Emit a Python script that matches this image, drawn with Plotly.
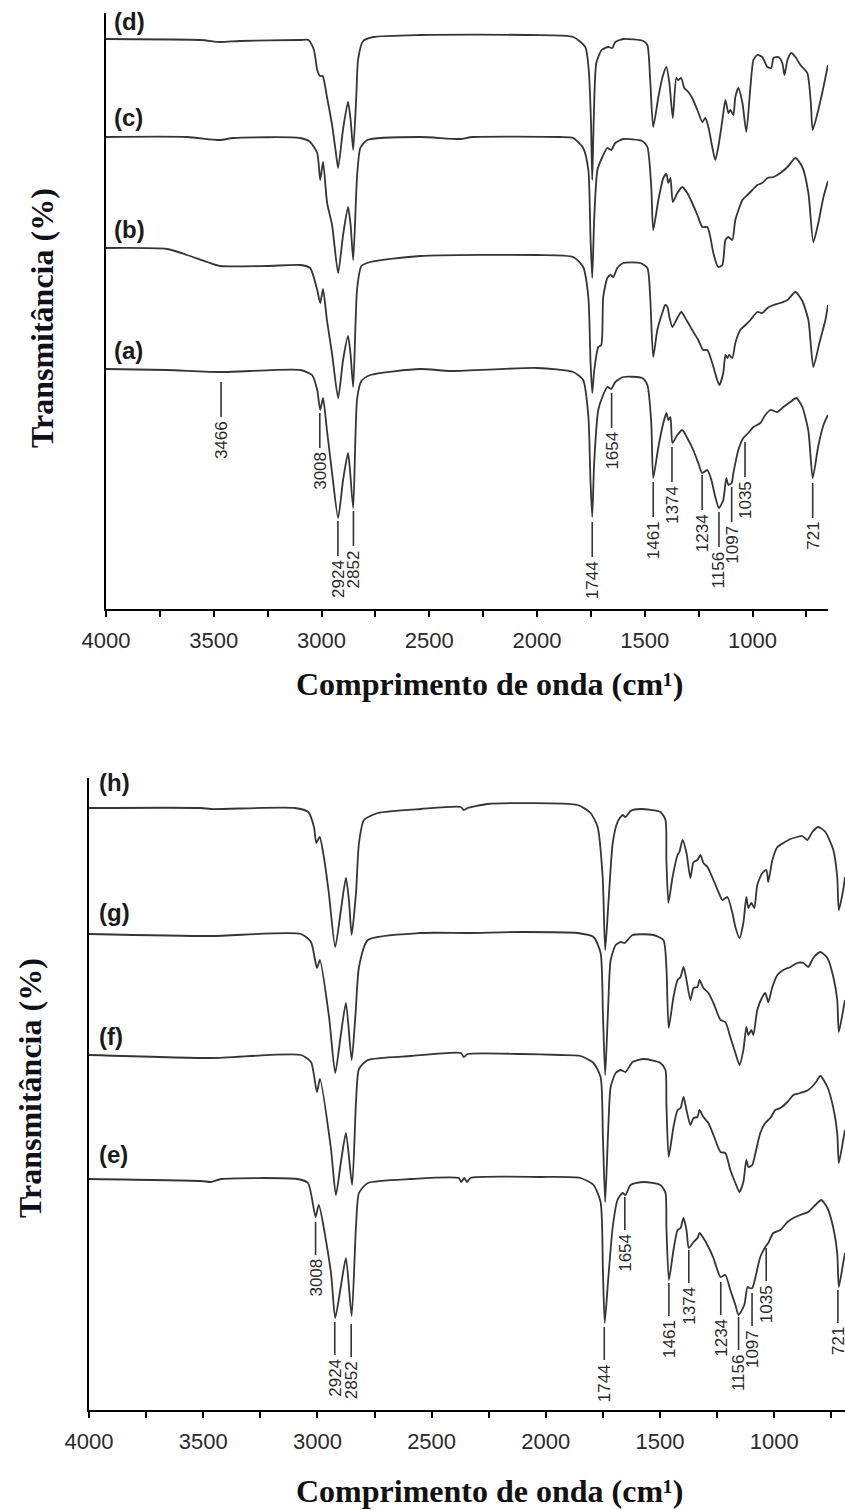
import plotly.graph_objects as go

# ---------------- top panel spectra (a)-(d) ----------------
d_wn = [4000, 3560, 3470, 3380, 3100, 3060, 3035, 3020, 3007, 2995, 2974, 2951, 2935, 2923, 2900, 2877, 2865, 2853, 2839, 2830,
        2807, 2760, 2542, 2032, 1832, 1776, 1760, 1750, 1744, 1737, 1725, 1700, 1670, 1651, 1637, 1600, 1507, 1488, 1475, 1461,
        1437, 1419, 1400, 1386, 1370, 1354, 1345, 1331, 1317, 1298, 1280, 1256, 1233, 1219, 1205, 1187, 1173, 1159, 1140, 1126,
        1112, 1103, 1089, 1080, 1066, 1047, 1029, 1010, 996, 978, 955, 931, 913, 903, 880, 862, 852, 838, 820, 801,
        778, 746, 730, 721, 695, 671, 650]
d_T = [142.5, 142.25, 141.75, 142, 142.25, 142.25, 139.75, 134.75, 133.25, 133.25, 127.75, 121, 114.75, 110.25, 120, 126.75, 122.25, 114.75, 127.75, 137.5,
       142, 143, 143.5, 143.5, 143, 140.5, 134.75, 122.25, 107.25, 122.25, 136.5, 139.75, 140.5, 140.25, 141.75, 142.5, 142, 141, 132.25, 120.5,
       128, 132.75, 135.5, 131.5, 122.75, 132.75, 132.25, 132.75, 130.25, 129.25, 127.75, 124.75, 121.75, 122.75, 120.5, 115.5, 112.25, 115.5, 122.25, 127.25,
       124, 124.75, 123.5, 128, 130.25, 126.5, 119.25, 130.5, 137.25, 138.5, 138, 135.5, 135.25, 137.75, 138, 136.5, 133.5, 137.25, 139, 138,
       136, 134, 126.75, 119.75, 124.75, 130.5, 136]

c_wn = [4000, 3624, 3471, 3410, 3099, 3053, 3020, 3006, 2993, 2974, 2951, 2923, 2900, 2877, 2865, 2853, 2835, 2820, 2788, 2542,
        2357, 2300, 1892, 1832, 1786, 1762, 1752, 1744, 1735, 1720, 1697, 1674, 1656, 1637, 1600, 1512, 1488, 1470, 1461, 1437,
        1414, 1400, 1391, 1381, 1370, 1349, 1326, 1303, 1280, 1256, 1233, 1210, 1196, 1182, 1160, 1140, 1126, 1112, 1094, 1080,
        1047, 1024, 1001, 978, 955, 931, 903, 871, 838, 801, 769, 741, 718, 695, 671, 650]
c_T = [118, 118, 117.25, 117.75, 117.75, 116.75, 114, 107.25, 111.75, 101.5, 96, 84, 93.5, 100.5, 96, 87.25, 108.25, 115.25, 117.25, 118,
       117.5, 118, 118, 117.75, 115.25, 109.75, 93, 82.75, 97.25, 109.75, 113, 115.25, 114.75, 116.5, 117.5, 117, 115.5, 105.5, 94.75, 102.25,
       107.75, 108.75, 106.5, 107.75, 101.75, 104, 105.5, 104, 101.5, 98.5, 95.5, 95.5, 93, 89, 85.5, 86, 92.25, 93, 92.25, 97.25,
       102.25, 103.5, 104.75, 106, 106.5, 107.75, 108, 109, 110.5, 112.75, 110.5, 104, 91.75, 96.5, 103, 107]

b_wn = [4000, 3717, 3624, 3531, 3471, 3253, 3099, 3053, 3020, 3006, 2993, 2975, 2951, 2923, 2900, 2877, 2865, 2853, 2835, 2815,
        2774, 2542, 2000, 1832, 1786, 1762, 1752, 1744, 1735, 1716, 1702, 1693, 1674, 1660, 1646, 1628, 1600, 1521, 1488, 1475,
        1461, 1442, 1419, 1405, 1395, 1386, 1372, 1349, 1331, 1312, 1280, 1252, 1229, 1210, 1187, 1164, 1154, 1136, 1126, 1117,
        1108, 1094, 1080, 1057, 1033, 1010, 978, 955, 931, 903, 871, 838, 801, 769, 741, 718, 690, 662, 650]
b_T = [90.25, 90, 88.5, 86.75, 85.75, 85.75, 86, 85.25, 79.75, 76.5, 80, 72.25, 63.75, 52.75, 62.25, 68.25, 63.5, 55.5, 80, 85.75,
       86.75, 88.25, 88.5, 88, 85.5, 78, 62, 54, 59.5, 65.5, 66, 78, 82.75, 83.5, 83, 85.25, 86.5, 86.5, 85.25, 78,
       63, 69.75, 74, 76, 75.5, 73, 70.5, 72.75, 74.25, 72.75, 69.75, 67.25, 64.75, 64.75, 61.5, 57.25, 56, 59, 63.5, 62.75,
       63.5, 62.75, 66.5, 69.75, 71, 72.25, 74.25, 74, 75.25, 76, 76.5, 77.25, 79.25, 77, 72.25, 60.5, 66.5, 72.25, 76]

a_wn = [4000, 3717, 3466, 3099, 3044, 3020, 3006, 2993, 2975, 2951, 2923, 2900, 2877, 2868, 2853, 2835, 2815, 2774, 2542, 2400,
        2000, 1832, 1786, 1762, 1752, 1744, 1735, 1716, 1697, 1674, 1656, 1637, 1600, 1512, 1488, 1470, 1461, 1437, 1414, 1400,
        1391, 1381, 1372, 1349, 1326, 1303, 1275, 1252, 1234, 1210, 1191, 1173, 1156, 1136, 1122, 1112, 1097, 1089, 1066, 1043,
        1020, 996, 964, 941, 917, 885, 857, 825, 797, 769, 741, 721, 695, 671, 650]
a_T = [60, 59.75, 59.25, 59.75, 58.5, 54.75, 49.75, 52.75, 44.75, 34, 22.75, 32.25, 39, 34.75, 25.25, 52.5, 57, 58.5, 60, 59.5,
       60.25, 59.25, 57.25, 48.25, 32, 23, 36.5, 49.75, 53, 55.5, 55, 56.75, 58, 57.75, 56, 46.5, 32.75, 40.5, 46.5, 49,
       47.25, 48, 41.5, 43.5, 44.75, 42.75, 39.75, 36.5, 34, 34.75, 32.25, 28, 25.25, 27.25, 32.75, 31, 31.5, 34, 39.75, 42.75,
       44, 45.5, 46.5, 48.5, 49.75, 49.25, 50.5, 51.75, 52.75, 50.5, 44.5, 32.75, 40.75, 46, 48.5]

# ---------------- bottom panel spectra (e)-(h) ----------------
h_wn = [4000, 3510, 3465, 3100, 3040, 3015, 3005, 2990, 2971, 2950, 2922, 2897, 2875, 2862, 2850, 2831, 2818, 2796, 2735, 2547,
        2372, 2359, 2342, 2254, 1861, 1804, 1773, 1751, 1740, 1725, 1707, 1686, 1664, 1651, 1629, 1585, 1498, 1476, 1472, 1463,
        1445, 1423, 1415, 1401, 1384, 1367, 1353, 1336, 1323, 1310, 1292, 1266, 1244, 1227, 1205, 1183, 1170, 1152, 1135, 1122,
        1113, 1100, 1087, 1074, 1052, 1034, 1026, 1008, 986, 960, 929, 899, 877, 855, 833, 807, 776, 741, 724, 717,
        698, 690]
h_T = [150.5, 150.5, 150.25, 150.5, 149.5, 145.75, 141.75, 143.25, 138, 129.25, 115.75, 125, 133, 127.5, 118.75, 129.25, 141.75, 147.5, 149.25, 150.25,
       150.75, 150, 150.5, 151.5, 151.25, 149.25, 145.75, 133.25, 115, 127.5, 141.75, 147, 148.75, 148.25, 149.75, 150.25, 149.5, 147.5, 137.5, 126.75,
       133.25, 138.75, 139.5, 142.5, 139.25, 133, 137, 137.5, 138.75, 136.75, 135.75, 132.5, 129.5, 127.5, 128.25, 124.25, 120.75, 118, 121.75, 128.25,
       125.5, 126.75, 125.5, 131.25, 134.25, 135, 132, 137.5, 140.75, 141.75, 142.75, 143.25, 143.5, 142.5, 144.5, 145.75, 144.5, 140, 133.25, 125,
       130, 133.25]

g_wn = [4000, 3465, 3072, 3028, 3002, 2989, 2949, 2922, 2897, 2875, 2850, 2833, 2818, 2779, 2547, 2342, 2110, 1861, 1791, 1760,
        1750, 1740, 1728, 1716, 1694, 1672, 1655, 1620, 1529, 1485, 1472, 1462, 1441, 1423, 1410, 1397, 1384, 1367, 1353, 1336,
        1327, 1310, 1288, 1266, 1235, 1214, 1192, 1170, 1152, 1135, 1122, 1113, 1100, 1091, 1074, 1052, 1039, 1026, 1008, 986,
        960, 929, 899, 872, 851, 829, 798, 767, 741, 724, 717, 698, 690]
g_T = [119, 118.5, 119, 117, 110.5, 112.5, 98.25, 84.25, 94, 101.75, 87.5, 99, 110.75, 117.5, 119.25, 119.25, 119.5, 119.25, 118.25, 114.25,
       99.25, 83.75, 99.25, 112.5, 116.25, 117, 116.75, 118.75, 118.75, 117.5, 110.75, 95.5, 103.25, 107.5, 108.25, 110.75, 107.5, 102.5, 105.5, 105.75,
       107.5, 105.5, 104.25, 101.75, 97.5, 97, 93.25, 89.25, 86.25, 90, 95.75, 93.75, 95, 93.75, 100, 103.25, 104.25, 102, 105.75, 108.75,
       110, 110.75, 111.75, 111.75, 110.75, 113, 114.5, 113, 108.25, 102.5, 94.5, 100, 102.5]

f_wn = [4000, 3465, 3072, 3028, 3002, 2989, 2941, 2919, 2897, 2875, 2848, 2831, 2818, 2779, 2591, 2372, 2359, 2342, 2110, 1935,
        1848, 1791, 1760, 1750, 1740, 1728, 1716, 1694, 1672, 1651, 1620, 1572, 1498, 1476, 1472, 1462, 1441, 1423, 1410, 1397,
        1384, 1367, 1353, 1336, 1327, 1310, 1288, 1266, 1235, 1214, 1192, 1170, 1152, 1135, 1122, 1113, 1096, 1082, 1061, 1039,
        1017, 995, 973, 942, 916, 886, 851, 820, 798, 767, 741, 724, 717, 698, 690]
f_T = [88.75, 88, 88.75, 87, 79.5, 82.75, 65.5, 53.75, 62, 69.25, 56.25, 77, 85.25, 87.5, 88.5, 89.25, 88.25, 89, 89, 88.75,
       88.5, 86.75, 83.25, 68.25, 52, 68.25, 80.75, 84.25, 85, 84.5, 87, 87.75, 86.75, 85, 76.75, 63.25, 70.75, 75, 75.5, 78.25,
       75, 71.25, 73, 73.25, 75, 73.25, 71.75, 68.75, 64.5, 64.25, 60, 56.75, 54.5, 57, 62.5, 60.75, 61.25, 64.25, 69.25, 71.75,
       73, 75, 75.5, 77, 78.75, 79.25, 80, 81.75, 83.5, 80.75, 75.5, 69.25, 61.75, 67.5, 70]

e_wn = [4000, 3509, 3466, 3420, 3089, 3041, 3008, 2994, 2941, 2922, 2897, 2875, 2850, 2831, 2818, 2779, 2591, 2381, 2370, 2357,
        2345, 2330, 2027, 1848, 1791, 1760, 1750, 1742, 1727, 1707, 1686, 1664, 1651, 1629, 1572, 1498, 1476, 1472, 1461, 1441,
        1423, 1410, 1397, 1384, 1374, 1353, 1336, 1327, 1310, 1288, 1266, 1235, 1214, 1192, 1170, 1156, 1131, 1117, 1109, 1096,
        1082, 1061, 1039, 1026, 1004, 973, 942, 916, 886, 851, 820, 794, 767, 741, 724, 717, 698, 690]
e_T = [57.75, 57.25, 57, 57.75, 57.75, 56.75, 48.25, 51.25, 34.5, 23, 31, 38, 23.5, 46, 54.25, 56.75, 57.75, 58, 57, 58,
       57, 58, 58.25, 58, 56.25, 52, 35, 21.75, 32.5, 45.75, 52.5, 54.25, 53.75, 56.25, 57, 56.25, 54.25, 45.75, 32.5, 40,
       45, 45.5, 48, 45, 40.5, 42, 43, 44.25, 43, 40.75, 38, 33.25, 33.75, 30, 26.25, 23.75, 26.25, 30.75, 30.5, 30.5,
       33.25, 38.25, 40.75, 41.75, 44.25, 45, 47, 48, 48.75, 49.5, 51.25, 52.5, 50.5, 45.5, 39.25, 30.75, 36.75, 39.25]

# ---------------- peak labels ----------------
top_lbl_wn = [3466, 3008, 2924, 2852, 1744, 1654, 1461, 1374, 1234, 1156, 1097, 1035, 721]
top_lbl_T = [56.75, 49, 22, 24.5, 21.75, 54, 31.75, 40.5, 33.5, 24.25, 30.5, 41.75, 31.5]
bot_lbl_wn = [3008, 2924, 2852, 1744, 1654, 1461, 1374, 1234, 1156, 1097, 1035, 721]
bot_lbl_T = [47, 22, 21.5, 20.75, 53.25, 31.75, 40, 32, 23.25, 29.25, 40.5, 30]

top_names = ["(d)", "(c)", "(b)", "(a)"]
top_name_T = [147, 123, 95, 64.75]
bot_names = ["(h)", "(g)", "(f)", "(e)"]
bot_name_T = [157, 124.5, 93.5, 64]

xticks = [4000, 3500, 3000, 2500, 2000, 1500, 1000]

top_series = [(d_wn, d_T), (c_wn, c_T), (b_wn, b_T), (a_wn, a_T)]
bot_series = [(h_wn, h_T), (g_wn, g_T), (f_wn, f_T), (e_wn, e_T)]
for wn, T in top_series + bot_series:
    assert len(wn) == len(T), (len(wn), len(T))

W, H = 845, 1510
LINE = "#353535"
TXT = "#2a2a2a"
SANS = "Arial, Liberation Sans, sans-serif"
SERIF = "Times New Roman, Liberation Serif, serif"

fig = go.Figure()
for wn, T in top_series:
    fig.add_trace(go.Scatter(x=wn, y=T, xaxis="x", yaxis="y", mode="lines",
                             line=dict(color=LINE, width=1.8, shape="spline", smoothing=0.6),
                             showlegend=False, hoverinfo="skip"))
for wn, T in bot_series:
    fig.add_trace(go.Scatter(x=wn, y=T, xaxis="x2", yaxis="y2", mode="lines",
                             line=dict(color=LINE, width=1.8, shape="spline", smoothing=0.6),
                             showlegend=False, hoverinfo="skip"))

shapes, anns = [], []

def add_labels(wns, tops, length, xr, yr):
    for wn, t in zip(wns, tops):
        shapes.append(dict(type="line", xref=xr, yref=yr, x0=wn, x1=wn, y0=t, y1=t - length,
                           line=dict(color=LINE, width=1.6)))
        anns.append(dict(xref=xr, yref=yr, x=wn, y=t - length - 0.5, text=str(wn), textangle=-90,
                         xanchor="center", yanchor="top", showarrow=False,
                         font=dict(family=SANS, size=17, color=TXT)))

add_labels(top_lbl_wn, top_lbl_T, 8.75, "x", "y")
add_labels(bot_lbl_wn, bot_lbl_T, 8.25, "x2", "y2")

for name, t in zip(top_names, top_name_T):
    anns.append(dict(xref="x", yref="y", x=3972, y=t, text="<b>%s</b>" % name, xanchor="left", yanchor="middle",
                     showarrow=False, font=dict(family=SANS, size=24, color="#1a1a1a")))
for name, t in zip(bot_names, bot_name_T):
    anns.append(dict(xref="x2", yref="y2", x=3965, y=t, text="<b>%s</b>" % name, xanchor="left", yanchor="middle",
                     showarrow=False, font=dict(family=SANS, size=24, color="#1a1a1a")))

xtitle = "<b>Comprimento de onda (cm¹)</b>"
ytitle = "<b>Transmitância (%)</b>"
for cx, cy in [(490, 684), (490, 1491)]:
    anns.append(dict(xref="paper", yref="paper", x=cx / W, y=1 - cy / H, text=xtitle, showarrow=False,
                     xanchor="center", yanchor="middle", font=dict(family=SERIF, size=32, color="#111111")))
for cx, cy in [(42, 318), (30, 1088)]:
    anns.append(dict(xref="paper", yref="paper", x=cx / W, y=1 - cy / H, text=ytitle, showarrow=False,
                     textangle=-90, xanchor="center", yanchor="middle",
                     font=dict(family=SERIF, size=32, color="#10101a")))

def xaxis(domain, rng, anchor):
    return dict(domain=domain, range=rng, anchor=anchor, showline=True, linecolor="black", linewidth=2,
                ticks="outside", ticklen=6, tickwidth=1.5, tickcolor="black",
                tickvals=xticks, ticktext=[str(v) for v in xticks],
                minor=dict(ticks="outside", dtick=250, tick0=0, ticklen=6, tickwidth=1.5, tickcolor="black"),
                tickfont=dict(family=SANS, size=22, color=TXT), ticklabelstandoff=5,
                showgrid=False, zeroline=False, fixedrange=True, automargin=False)

def yaxis(domain, rng, anchor):
    return dict(domain=domain, range=rng, anchor=anchor, showline=True, linecolor="black", linewidth=2,
                ticks="", showticklabels=False, showgrid=False, zeroline=False, fixedrange=True,
                automargin=False)

fig.update_layout(
    width=W, height=H, margin=dict(l=0, r=0, t=0, b=0, pad=0, autoexpand=False),
    paper_bgcolor="white", plot_bgcolor="white",
    xaxis=xaxis([106 / W, 828 / W], [4000, 650], "y"),
    yaxis=yaxis([1 - 609 / H, 1 - 13 / H], [0, 149], "x"),
    xaxis2=xaxis([89 / W, 1.0], [4000, 690], "y2"),
    yaxis2=yaxis([1 - 1410 / H, 1 - 778 / H], [0, 158], "x2"),
    shapes=shapes, annotations=anns, hovermode=False,
)

fig.write_html("out.html")
